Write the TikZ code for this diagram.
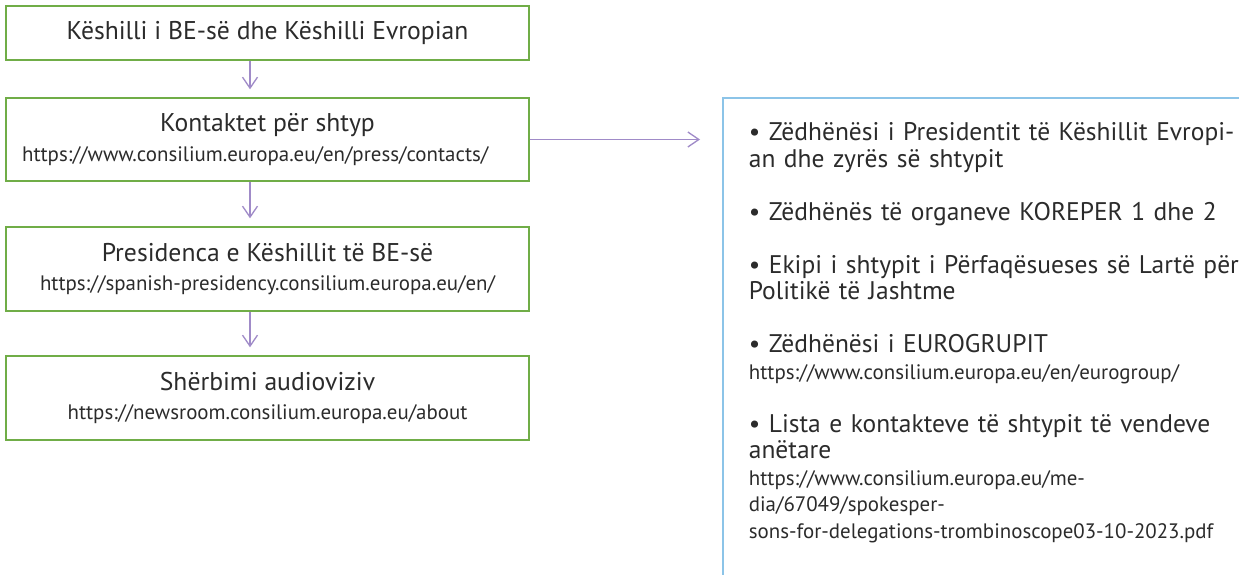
\documentclass[tikz,border=0pt]{standalone}
\usepackage{fontspec}
\setmainfont{PT Sans}
\usetikzlibrary{arrows.meta}

\definecolor{boxgreen}{HTML}{70AD47}
\definecolor{linkpurple}{HTML}{A08BC8}
\definecolor{listblue}{HTML}{8CC4E8}
\definecolor{inkgray}{HTML}{2B2B2B}

\newcommand{\headfont}{\fontsize{14.5}{15.08}\selectfont}
\newcommand{\linkfont}{\fontsize{11.9}{15.08}\selectfont}

\tikzset{
  unit/.style={draw=boxgreen,line width=0.8pt,minimum width=10.46cm,text=inkgray,
    align=center,inner sep=0pt,font=\fontsize{14.6}{16.8}\selectfont},
  members/.style={draw=listblue,line width=1pt,text=inkgray,align=left,text width=11cm,
    inner xsep=0.52cm,inner ysep=0.5cm,text depth=9.4cm,font=\headfont},
  flow/.style={draw=linkpurple,line width=0.75pt,-{Straight Barb[length=0.22cm,width=0.3cm]}},
}

\begin{document}
\begin{tikzpicture}[x=0.02cm,y=-0.02cm]
  \useasboundingbox (0,0) rectangle (1239,574);

  \node[unit,minimum height=1.08cm] (council) at (267.5,33) {Këshilli i BE-së dhe Këshilli Evropian};
  \node[unit,minimum height=1.66cm] (press) at (267.5,139.5)
    {Kontaktet për shtyp\\{\linkfont https://www.consilium.europa.eu/en/press/contacts/\hspace*{14pt}}};
  \node[unit,minimum height=1.68cm] (presidency) at (267.5,269)
    {Presidenca e Këshillit të BE-së\\{\linkfont https://spanish-presidency.consilium.europa.eu/en/}};
  \node[unit,minimum height=1.68cm] (media) at (267.5,398)
    {Shërbimi audioviziv\\{\linkfont https://newsroom.consilium.europa.eu/about}};

  \node[members,anchor=north west] (spokes) at (722,97) {%
    • Zëdhënësi i Presidentit të Këshillit Evropi-\\
    an dhe zyrës së shtypit\\[15.08pt]
    • Zëdhënës të organeve KOREPER 1 dhe 2\\[15.08pt]
    • Ekipi i shtypit i Përfaqësueses së Lartë për\\
    Politikë të Jashtme\\[15.08pt]
    • Zëdhënësi i EUROGRUPIT\\
    {\linkfont https://www.consilium.europa.eu/en/eurogroup/}\\[15.08pt]
    • Lista e kontakteve të shtypit të vendeve\\
    anëtare\\
    {\linkfont https://www.consilium.europa.eu/me-}\\
    {\linkfont dia/67049/spokesper-}\\
    {\linkfont sons-for-delegations-trombinoscope03-10-2023.pdf}};

  \draw[flow,shorten >=0.16cm] ([xshift=-0.35cm]council.south) -- ([xshift=-0.35cm]press.north);
  \draw[flow,shorten >=0.16cm] ([xshift=-0.35cm]press.south) -- ([xshift=-0.35cm]presidency.north);
  \draw[flow,shorten >=0.16cm] ([xshift=-0.35cm]presidency.south) -- ([xshift=-0.35cm]media.north);
  \draw[flow,shorten >=0.44cm] (press.east) -- (press.east -| spokes.west);

\end{tikzpicture}
\end{document}
